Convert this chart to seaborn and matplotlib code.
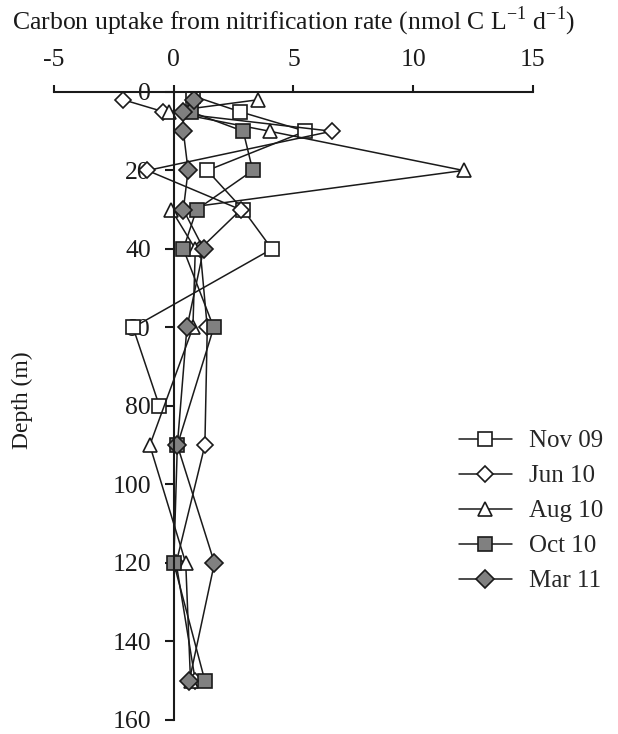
import numpy as np
import pandas as pd
import seaborn as sns
import matplotlib.pyplot as plt
from matplotlib.lines import Line2D

sns.set_style("ticks")
plt.rcParams['font.family'] = ['Liberation Serif', 'DejaVu Serif']
plt.rcParams['axes.unicode_minus'] = False
plt.rcParams['mathtext.fontset'] = 'custom'
plt.rcParams['mathtext.rm'] = 'Liberation Serif'

# Data (x = rate, y = depth in m)
nov09_depth = [1, 5, 10, 20, 30, 40, 60, 80]
nov09_rate = [0.8, 2.75, 5.5, 1.4, 2.9, 4.1, -1.7, -0.6]

jun10_depth = [2, 5, 10, 20, 30, 40, 60, 90, 120, 150]
jun10_rate = [-2.1, -0.45, 6.6, -1.1, 2.8, 1.1, 1.4, 1.3, 0.1, 0.9]

aug10_depth = [2, 5, 10, 20, 30, 40, 60, 90, 120, 150]
aug10_rate = [3.5, -0.2, 4.0, 12.1, -0.1, 0.9, 0.8, -1.0, 0.5, 0.7]

oct10_depth = [5, 10, 20, 30, 40, 60, 90, 120, 150]
oct10_rate = [0.7, 2.9, 3.3, 0.95, 0.4, 1.67, 0.15, 0.0, 1.3]

mar11_depth = [2, 5, 10, 20, 30, 40, 60, 90, 120, 150]
mar11_rate = [0.85, 0.4, 0.4, 0.6, 0.4, 1.25, 0.55, 0.15, 1.7, 0.65]

series_names = ['Nov 09', 'Jun 10', 'Aug 10', 'Oct 10', 'Mar 11']
series_depths = [nov09_depth, jun10_depth, aug10_depth, oct10_depth, mar11_depth]
series_rates = [nov09_rate, jun10_rate, aug10_rate, oct10_rate, mar11_rate]

x_ticks = [-5, 0, 5, 10, 15]
y_ticks = [0, 20, 40, 60, 80, 100, 120, 140, 160]

# marker style per series
markers = ['s', 'D', '^', 's', 'D']
faces = ['white', 'white', 'white', '#808080', '#808080']
sizes = [10, 8, 10, 10.5, 9]

frames = []
for name, d, r in zip(series_names, series_depths, series_rates):
    frames.append(pd.DataFrame({'series': name, 'depth': d, 'rate': r}))
df = pd.concat(frames, ignore_index=True)

fig = plt.figure(figsize=(6.18, 7.34), dpi=100)
ax = fig.add_axes([0.0874, 0.0191, 0.775, 0.8556])

for name, m, fc, ms in zip(series_names, markers, faces, sizes):
    sub = df[df['series'] == name]
    sns.lineplot(data=sub, x='rate', y='depth', sort=False, estimator=None,
                 color='#1a1a1a', lw=1.1, marker=m, markersize=ms,
                 markerfacecolor=fc, markeredgecolor='#1a1a1a',
                 markeredgewidth=1.2, ax=ax, legend=False)

ax.set_xlim(-5, 15)
ax.set_ylim(160, 0)
ax.set_xticks(x_ticks)
ax.set_yticks(y_ticks)

ax.xaxis.tick_top()
ax.xaxis.set_label_position('top')
ax.spines['right'].set_visible(False)
ax.spines['bottom'].set_visible(False)
ax.spines['left'].set_position(('data', 0))
for s in ['top', 'left']:
    ax.spines[s].set_linewidth(1.5)
    ax.spines[s].set_color('#1a1a1a')

ax.tick_params(axis='x', direction='out', length=5, width=1.5, pad=10,
               labelsize=18.5, colors='#1a1a1a')
ax.tick_params(axis='y', direction='out', length=6.5, width=1.5, pad=10,
               labelsize=18.5, colors='#1a1a1a')

ax.set_xlabel('Carbon uptake from nitrification rate (nmol C L$^{-1}$ d$^{-1}$)',
              fontsize=18.5, labelpad=14, color='#1a1a1a')
ax.set_ylabel('')
fig.text(0.036, 0.455, 'Depth (m)', rotation=90, fontsize=17,
         ha='center', va='center', color='#1a1a1a')

handles = [Line2D([], [], color='#1a1a1a', lw=1.1, marker=m, markersize=ms,
                  markerfacecolor=fc, markeredgecolor='#1a1a1a',
                  markeredgewidth=1.2)
           for m, fc, ms in zip(markers, faces, sizes)]
ax.legend(handles, series_names, frameon=False, fontsize=18,
          loc='upper left', bbox_to_anchor=(0.825, 0.478),
          handlelength=2.1, handletextpad=0.7, labelspacing=0.5,
          borderaxespad=0)

fig.savefig('out.png', dpi=100)
